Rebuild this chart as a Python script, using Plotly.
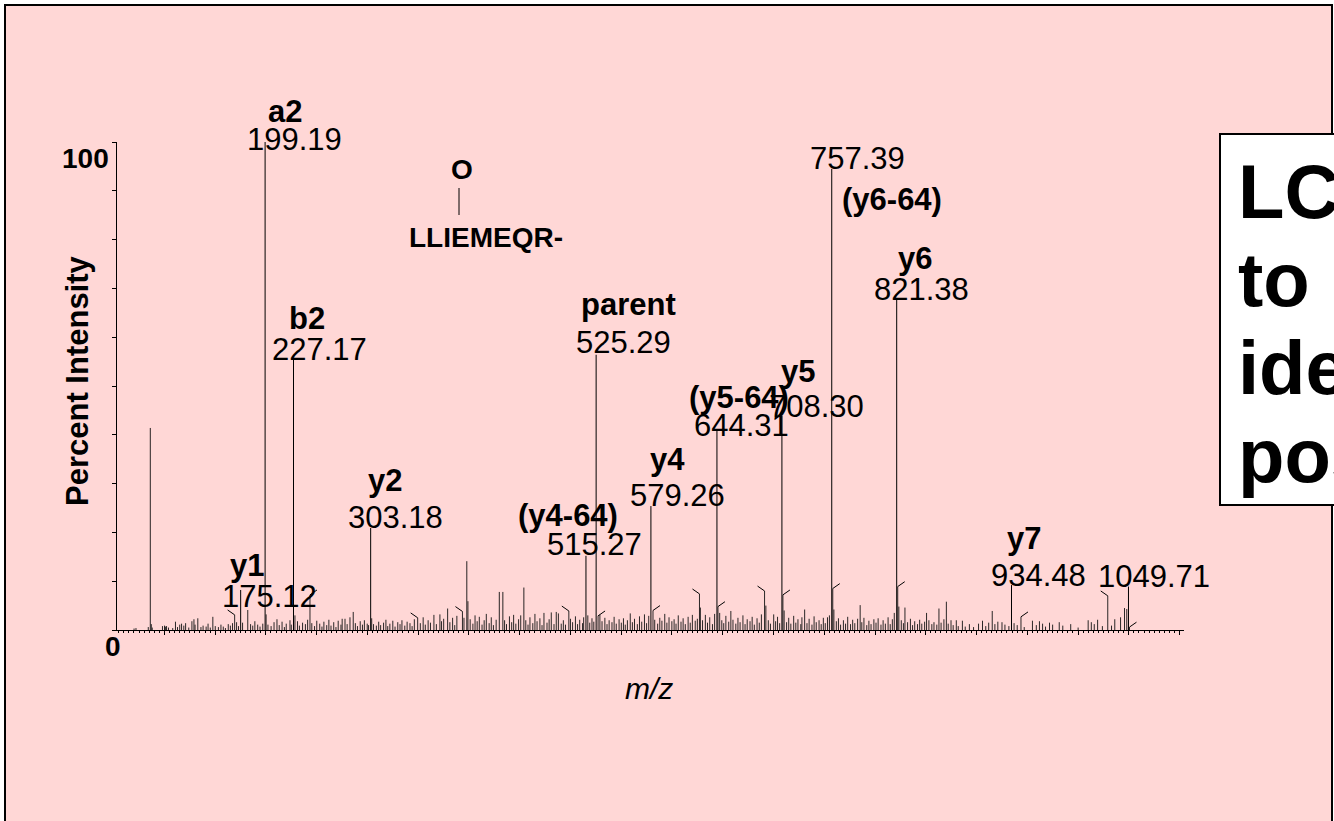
import plotly.graph_objects as go

FONT = "Liberation Sans, Arial, Helvetica, sans-serif"

# ---- labelled fragment ions (m/z, percent intensity) ----------------------
ion_names = ["y1", "a2", "b2", "y2", "(y4-64)", "parent", "y4",
             "(y5-64)", "y5", "(y6-64)", "y6", "y7", ""]
ion_mz = [175.12, 199.19, 227.17, 303.18, 515.27, 525.29, 579.26,
          644.31, 708.30, 757.39, 821.38, 934.48, 1049.71]
ion_int = [8.2, 100.0, 55.7, 20.9, 15.2, 56.4, 25.4,
           41.1, 44.0, 94.5, 67.8, 9.2, 8.9]

# ---- other prominent, unlabelled peaks ------------------------------------
other_mz = [86.10, 397.90, 429.90, 433.40, 454.10]
other_int = [41.4, 14.1, 7.8, 7.8, 8.7]

# ---- small peaks carrying a leader tick (direction -1 = left, +1 = right) --
hook_mz = [169.2, 243.4, 349.5, 393.6, 498.4, 527.2, 581.3, 627.1,
           645.3, 691.2, 709.3, 758.4, 822.4, 943.8, 1029.3, 1050.7]
hook_int = [3.1, 7.2, 2.5, 3.8, 3.9, 2.9, 4.0, 7.4,
            4.8, 8.0, 7.2, 8.5, 8.9, 2.7, 7.0, 0.6]
hook_dir = [-1, 1, -1, -1, -1, 1, 1, -1, 1, -1, 1, 1, 1, 1, -1, 1]

# ---- baseline noise (m/z, percent intensity) ------------------------------
noise_peaks = [
    (70.1, 0.3), (72.0, 0.4), (84.1, 0.6), (87.1, 1.2), (88.0, 0.5), (98.1, 0.8),
    (100.1, 0.9), (101.0, 0.7), (102.1, 0.8), (104.0, 0.5), (108.2, 0.4),
    (110.9, 1.7), (112.9, 0.6), (115.1, 1.1), (116.9, 1.3), (119.1, 0.9), (120.9, 1.4),
    (124.0, 0.5), (127.1, 1.8), (129.1, 2.2), (130.2, 1.1), (132.9, 2.4), (136.0, 0.6),
    (138.1, 0.9), (141.1, 0.7), (143.0, 1.3), (145.2, 0.5), (147.7, 2.7), (150.1, 0.8),
    (153.2, 0.6), (155.7, 1.1), (158.0, 0.7), (160.1, 0.4), (162.9, 1.2), (165.0, 0.9),
    (167.1, 1.4), (171.1, 1.6), (173.0, 0.8), (177.0, 1.5), (182.1, 4.1), (184.9, 1.2),
    (187.0, 0.9), (189.1, 1.8), (191.9, 1.1), (194.2, 0.7), (196.9, 1.3), (200.2, 3.2),
    (202.0, 1.1), (205.1, 0.8), (208.0, 1.6), (210.9, 2.2), (213.1, 1.0), (215.9, 1.7),
    (218.2, 0.6), (220.0, 1.3), (223.7, 2.0), (225.0, 1.1), (228.6, 3.0), (231.1, 1.8),
    (233.0, 0.9), (236.1, 1.5), (238.9, 1.2), (241.1, 2.1), (245.2, 1.4), (247.9, 0.8),
    (250.1, 1.9), (253.0, 1.3), (255.2, 0.7), (257.1, 1.7), (259.9, 1.0), (262.0, 2.1),
    (264.1, 0.9), (266.8, 1.6), (269.0, 0.6), (271.2, 1.9), (273.9, 1.1), (275.1, 2.3),
    (277.9, 2.3), (280.0, 1.2), (282.8, 2.6), (286.0, 3.7), (288.1, 1.4), (290.2, 0.8),
    (292.9, 1.8), (295.1, 1.1), (297.0, 2.0), (299.8, 1.3), (301.1, 1.0), (304.2, 2.4),
    (306.0, 1.2), (308.8, 0.9), (311.1, 1.7), (313.0, 1.0), (315.9, 1.5), (318.2, 2.1),
    (320.0, 0.8), (322.1, 1.3), (325.0, 1.9), (327.2, 0.7), (329.9, 1.6), (332.1, 1.2),
    (334.0, 2.0), (336.8, 0.9), (339.1, 1.7), (341.9, 1.4), (344.0, 0.8), (346.2, 2.2),
    (352.1, 1.4), (354.9, 2.6), (357.0, 1.1), (359.8, 2.0), (362.1, 1.5), (365.5, 3.1),
    (367.9, 1.2), (371.4, 3.2), (373.0, 1.8), (375.1, 2.3), (379.0, 4.4), (381.2, 1.6),
    (383.9, 2.5), (386.0, 1.0), (388.1, 2.9), (395.1, 2.5), (399.0, 5.9), (401.2, 2.2),
    (403.9, 1.3), (406.0, 3.0), (408.1, 1.8), (410.2, 2.7), (412.9, 1.1), (415.0, 2.0),
    (417.1, 3.3), (419.9, 1.4), (422.0, 2.6), (424.1, 1.0), (426.8, 2.1), (435.1, 2.0),
    (437.0, 1.2), (439.9, 2.8), (442.1, 1.6), (444.0, 3.1), (446.2, 1.3), (448.9, 2.2),
    (451.0, 3.0), (456.0, 2.0), (458.2, 1.1), (460.1, 2.6), (462.9, 1.4), (465.0, 3.3),
    (467.1, 1.8), (469.9, 2.4), (472.0, 1.0), (473.9, 3.5), (476.9, 1.5), (479.0, 2.2),
    (481.1, 3.6), (483.8, 1.2), (486.0, 3.7), (488.1, 3.4), (490.9, 1.3), (493.0, 2.0),
    (495.1, 1.1), (500.0, 2.3), (502.1, 1.6), (504.9, 2.8), (507.0, 1.2), (509.1, 2.1),
    (511.9, 1.4), (513.0, 2.6), (517.1, 3.0), (519.0, 1.5), (521.2, 2.4), (523.0, 1.7),
    (529.0, 3.1), (531.1, 1.8), (533.9, 2.5), (536.0, 1.2), (538.1, 2.0), (540.9, 1.6),
    (543.0, 2.7), (545.1, 1.3), (547.9, 2.2), (550.1, 1.5), (552.2, 2.4), (554.0, 1.1),
    (556.1, 2.0), (558.9, 3.4), (561.0, 1.6), (563.1, 2.3), (565.9, 1.2), (568.0, 2.8),
    (570.2, 1.7), (572.9, 3.2), (575.0, 1.4), (577.1, 2.9), (583.0, 2.1), (585.9, 1.3),
    (588.0, 2.5), (590.1, 1.9), (592.9, 3.3), (595.0, 1.5), (597.1, 2.6), (599.9, 1.8),
    (602.1, 2.2), (604.0, 1.3), (606.2, 3.0), (608.9, 1.7), (611.0, 2.4), (613.1, 1.2),
    (615.9, 2.7), (618.0, 1.5), (620.1, 3.1), (622.9, 1.9), (625.0, 2.3), (628.0, 4.6),
    (630.1, 2.0), (632.9, 3.1), (635.0, 1.5), (637.2, 2.6), (639.9, 1.2), (642.0, 3.3),
    (647.0, 3.5), (649.1, 2.0), (651.0, 1.4), (653.1, 2.9), (655.9, 1.7), (658.0, 3.9),
    (660.1, 2.1), (662.9, 1.3), (665.0, 2.5), (667.1, 1.6), (669.9, 3.0), (672.0, 1.2),
    (674.1, 2.2), (676.9, 1.8), (679.0, 2.7), (681.1, 1.1), (683.8, 2.4), (686.0, 1.5),
    (688.1, 3.2), (692.5, 5.0), (694.9, 2.0), (697.0, 1.3), (700.2, 3.2), (702.1, 1.8),
    (704.0, 2.7), (706.1, 1.4), (710.5, 4.0), (712.9, 1.6), (715.0, 2.5), (717.1, 1.3),
    (719.9, 2.9), (722.0, 1.5), (724.1, 2.2), (726.9, 1.2), (728.0, 2.6), (730.7, 4.2),
    (733.0, 1.4), (735.1, 2.3), (737.9, 1.1), (740.0, 2.8), (742.1, 1.6), (744.9, 2.0),
    (747.0, 1.2), (749.1, 2.5), (751.0, 1.4), (753.2, 2.6), (755.1, 3.0), (759.5, 4.2),
    (761.9, 1.8), (764.0, 2.4), (766.1, 1.1), (768.9, 2.0), (771.0, 1.3), (773.1, 2.7),
    (775.9, 1.2), (778.0, 2.1), (780.1, 1.4), (782.9, 2.3), (785.4, 5.1), (787.0, 1.6),
    (789.1, 2.5), (791.9, 1.0), (794.0, 1.9), (796.1, 1.2), (798.9, 2.2), (801.0, 1.5),
    (803.1, 2.4), (805.9, 1.1), (808.0, 2.0), (810.2, 1.3), (812.9, 2.6), (815.0, 1.2),
    (817.1, 2.2), (819.0, 3.5), (823.5, 4.8), (825.9, 2.0), (828.0, 1.4), (829.5, 4.6),
    (832.1, 1.6), (834.9, 2.3), (837.0, 1.0), (839.1, 1.8), (841.9, 1.2), (844.0, 2.1),
    (846.1, 1.3), (848.9, 1.7), (850.8, 3.5), (853.1, 2.0), (856.0, 1.2), (858.1, 1.6),
    (860.9, 1.1), (863.0, 4.4), (865.1, 1.5), (867.9, 2.2), (870.3, 5.8), (872.1, 1.3),
    (874.9, 2.0), (877.0, 1.0), (880.1, 2.0), (882.0, 0.8), (886.1, 1.9), (888.9, 0.7),
    (893.0, 1.2), (897.1, 0.6), (902.0, 1.3), (905.9, 1.9), (909.1, 0.8), (912.0, 1.5),
    (915.5, 3.9), (918.1, 1.2), (921.0, 1.7), (925.1, 1.6), (928.0, 1.1), (931.9, 0.8),
    (937.0, 1.4), (940.1, 1.0), (947.0, 0.6), (955.1, 1.9), (958.9, 1.0), (962.0, 1.8),
    (965.1, 1.3), (968.0, 0.7), (971.9, 1.5), (975.0, 1.1), (981.5, 1.6), (985.0, 0.9),
    (992.8, 1.2), (1000.1, 0.5), (1010.0, 2.0), (1013.1, 1.6), (1016.0, 1.2), (1019.3, 2.1),
    (1024.0, 0.8), (1033.0, 0.9), (1036.2, 2.2), (1041.9, 2.6), (1045.8, 4.5), (1048.0, 4.3),
]
noise_mz = [p[0] for p in noise_peaks]
noise_int = [p[1] for p in noise_peaks]

# ---- text placement of the peak labels (pixel shifts from each peak top) --
# (value dx, value dy, name dx, name dy)
label_shift = [
    (29, -7, 6, 24),     # y1
    (29, 3, 20, 31),     # a2
    (26, 9, 13, 40),     # b2
    (25, 11, 14, 48),    # y2
    (9, 11, -18, 40),    # (y4-64)
    (27, 12, 32, 50),    # parent
    (27, 11, 17, 47),    # y4
    (25, 4, 22, 32),     # (y5-64)
    (35, 9, 16, 44),     # y5
    (26, 10, 60, -31),   # 757.39 / (y6-64)
    (25, 10, 18, 41),    # y6
    (27, 10, 12, 47),    # y7
    (26, 10, 0, 0),      # 1049.71
]

PINK = "#FFD7D6"
LABEL_SIZE = 31

# plotting area in pixels
L, T, W, H = 117, 142, 1067, 488


def px(xp):
    return (xp - L) / W


def py(yp):
    return (T + H - yp) / H


def sticks(mz, inten):
    xs, ys = [], []
    for m, h in zip(mz, inten):
        xs += [m, m, None]
        ys += [0, h, None]
    return xs, ys


fig = go.Figure()

nx, ny = sticks(noise_mz, noise_int)
fig.add_trace(go.Scatter(x=nx, y=ny, mode="lines",
                         line=dict(color="rgba(20,20,20,0.9)", width=1),
                         hoverinfo="skip", showlegend=False))

hx, hy = sticks(hook_mz, hook_int)
fig.add_trace(go.Scatter(x=hx, y=hy, mode="lines",
                         line=dict(color="rgba(20,20,20,0.9)", width=1),
                         hoverinfo="skip", showlegend=False))

# leader ticks on top of the small peaks
tx, ty = [], []
for m, h, d in zip(hook_mz, hook_int, hook_dir):
    tx += [m, m + d * 6.9, None]
    ty += [h, h + 1.0, None]
fig.add_trace(go.Scatter(x=tx, y=ty, mode="lines",
                         line=dict(color="black", width=1),
                         hoverinfo="skip", showlegend=False))

ox, oy = sticks(other_mz, other_int)
fig.add_trace(go.Scatter(x=ox, y=oy, mode="lines",
                         line=dict(color="rgba(15,15,15,0.9)", width=1),
                         hoverinfo="skip", showlegend=False))

ix, iy = sticks(ion_mz, ion_int)
fig.add_trace(go.Scatter(x=ix, y=iy, mode="lines",
                         line=dict(color="black", width=1),
                         hoverinfo="skip", showlegend=False))

annotations = []
for name, m, h, (vdx, vdy, ndx, ndy) in zip(ion_names, ion_mz, ion_int, label_shift):
    annotations.append(dict(x=m, y=h, xref="x", yref="y", text=f"{m:.2f}",
                            showarrow=False, xanchor="center", yanchor="middle",
                            xshift=vdx, yshift=vdy,
                            font=dict(family=FONT, size=LABEL_SIZE, color="black")))
    if name:
        annotations.append(dict(x=m, y=h, xref="x", yref="y", text=f"<b>{name}</b>",
                                showarrow=False, xanchor="center", yanchor="middle",
                                xshift=ndx, yshift=ndy,
                                font=dict(family=FONT, size=LABEL_SIZE, color="black")))

# axis end labels, axis titles and the peptide sketch
annotations += [
    dict(x=px(85), y=py(158), text="<b>100</b>"),
    dict(x=px(113), y=py(646), text="<b>0</b>"),
    dict(x=px(649), y=py(688), text="<i>m/z</i>", font_size=30),
    dict(x=px(77), y=py(381), text="<b>Percent Intensity</b>", textangle=-90, font_size=31),
    dict(x=px(462), y=py(170), text="<b>O</b>"),
    dict(x=px(486), y=py(237), text="<b>LLIEMEQR-</b>"),
]
for a in annotations[-6:]:
    a.update(xref="paper", yref="paper", showarrow=False,
             xanchor="center", yanchor="middle")
    f = dict(family=FONT, size=a.pop("font_size", 28), color="black")
    a["font"] = f

# headline box text
box_lines = ["LC-MS/MS", "to", "identify", "position"]
box_centres = [191, 279, 367, 455]
for line, yc in zip(box_lines, box_centres):
    annotations.append(dict(x=px(1236), y=py(yc), xref="paper", yref="paper",
                            text=f"<b>{line}</b>", showarrow=False,
                            xanchor="left", yanchor="middle",
                            font=dict(family=FONT, size=76, color="black")))

shapes = [
    # pink slide panel
    dict(type="rect", xref="paper", yref="paper",
         x0=px(5), x1=px(1332), y0=py(860), y1=py(5),
         fillcolor=PINK, line=dict(color="black", width=2), layer="below"),
    # headline box
    dict(type="rect", xref="paper", yref="paper",
         x0=px(1220), x1=px(1360), y0=py(505), y1=py(134),
         fillcolor="white", line=dict(color="black", width=2), layer="above"),
    # bond between O and the peptide
    dict(type="line", xref="paper", yref="paper",
         x0=px(459), x1=px(459), y0=py(215), y1=py(188),
         line=dict(color="black", width=1), layer="above"),
]

fig.update_layout(
    width=1334, height=821,
    margin=dict(l=L, r=1334 - L - W, t=T, b=821 - T - H),
    paper_bgcolor="white", plot_bgcolor="rgba(0,0,0,0)",
    showlegend=False,
    annotations=annotations, shapes=shapes,
    font=dict(family=FONT, color="black"),
)
fig.update_xaxes(range=[53.3, 1104.4], showgrid=False, zeroline=False,
                 showline=True, linecolor="black", linewidth=1,
                 ticks="outside", tick0=0, dtick=50, ticklen=4, tickwidth=1,
                 tickcolor="black", showticklabels=False,
                 minor=dict(ticks="outside", dtick=5, ticklen=2, tickwidth=1,
                            tickcolor="black", showgrid=False))
fig.update_yaxes(range=[0, 100], showgrid=False, zeroline=False,
                 showline=True, linecolor="black", linewidth=1,
                 ticks="outside", tick0=0, dtick=10, ticklen=4, tickwidth=1,
                 tickcolor="black", showticklabels=False)

fig.write_html("out.html")
